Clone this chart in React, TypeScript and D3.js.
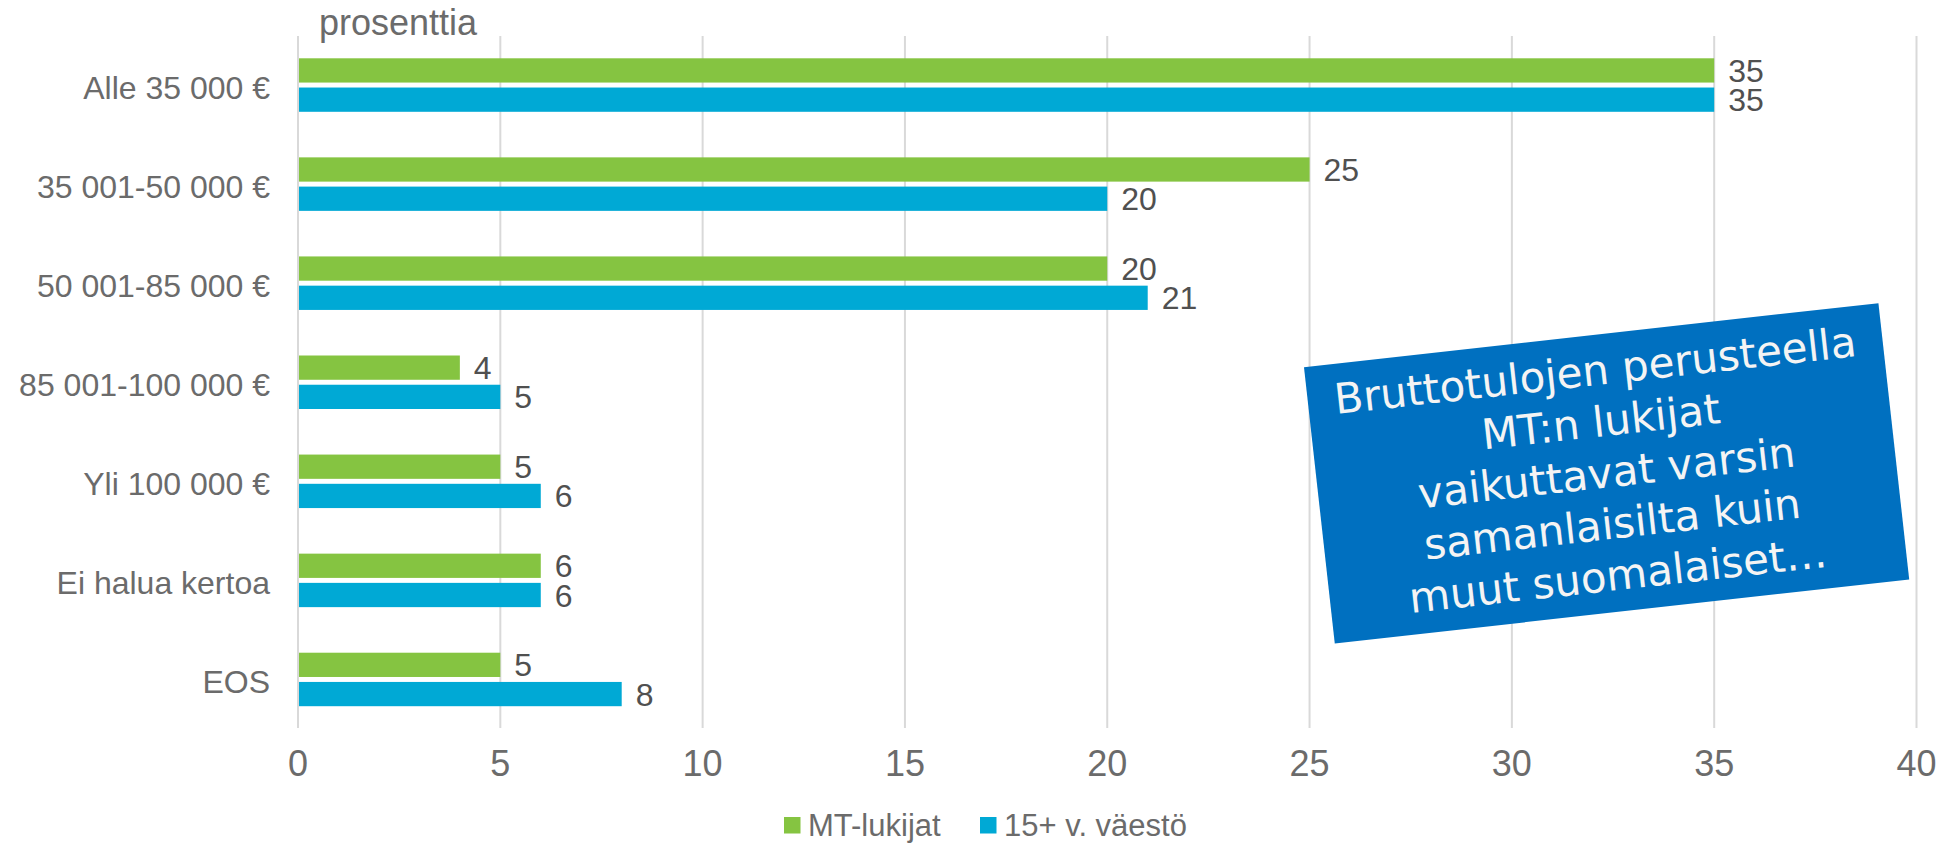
import React from 'react';
import * as d3 from 'd3';

const categories = [
  'Alle 35 000 €',
  '35 001-50 000 €',
  '50 001-85 000 €',
  '85 001-100 000 €',
  'Yli 100 000 €',
  'Ei halua kertoa',
  'EOS',
];
const mtLukijat = [35, 25, 20, 4, 5, 6, 5];
const vaesto = [35, 20, 21, 5, 6, 6, 8];
const seriesNames = ['MT-lukijat', '15+ v. väestö'];
const seriesColors = ['#85C441', '#00A9D5'];
const xTicks = [0, 5, 10, 15, 20, 25, 30, 35, 40];
const axisTitle = 'prosenttia';
const calloutLines = [
  'Bruttotulojen perusteella',
  'MT:n lukijat',
  'vaikuttavat varsin',
  'samanlaisilta kuin',
  'muut suomalaiset…',
];

const W = 1939;
const H = 843;
const FONT = '"Liberation Sans", Arial, sans-serif';

export default function App() {
  const x = d3.scaleLinear().domain([0, 40]).range([298, 1916.5]);
  const y0 = d3
    .scaleBand<string>()
    .domain(categories)
    .range([36.5, 728])
    .paddingInner(0.46)
    .paddingOuter(0.22);
  const y1 = d3
    .scaleBand<number>()
    .domain([0, 1])
    .range([0, y0.bandwidth()])
    .paddingInner(0.17);
  const series = [mtLukijat, vaesto];
  const [plotTop, plotBottom] = [36, 728];

  const boxW = 578;
  const boxH = 278;
  const boxCx = 1606.6;
  const boxCy = 473.3;
  const angle = -6.36;
  const lineH = 51.5;

  return (
    <svg
      width={W}
      height={H}
      style={{ position: 'absolute', left: 0, top: 0, display: 'block' }}
    >
      <rect x={0} y={0} width={W} height={H} fill="#ffffff" />
      {/* gridlines */}
      {xTicks.map((t) => (
        <line
          key={'g' + t}
          x1={x(t)}
          x2={x(t)}
          y1={plotTop}
          y2={plotBottom}
          stroke="#D9D9D9"
          strokeWidth={2}
        />
      ))}
      {/* bars */}
      {categories.map((c, i) => (
        <g key={c} transform={`translate(0,${y0(c)})`}>
          {series.map((s, si) => (
            <rect
              key={si}
              x={x(0) + 1}
              y={y1(si)}
              width={x(s[i]) - x(0) - 1}
              height={y1.bandwidth()}
              fill={seriesColors[si]}
            />
          ))}
          {series.map((s, si) => (
            <text
              key={'l' + si}
              x={x(s[i]) + 14}
              y={(y1(si) as number) + y1.bandwidth() / 2}
              dy="0.36em"
              fontFamily={FONT}
              fontSize={32}
              fill="#505050"
            >
              {s[i]}
            </text>
          ))}
          <text
            x={270}
            y={y0.bandwidth() / 2 + 2}
            dy="0.36em"
            textAnchor="end"
            fontFamily={FONT}
            fontSize={32}
            fill="#6B6B6B"
          >
            {c}
          </text>
        </g>
      ))}
      {/* x tick labels */}
      {xTicks.map((t) => (
        <text
          key={'t' + t}
          x={x(t)}
          y={776}
          textAnchor="middle"
          fontFamily={FONT}
          fontSize={36}
          fill="#6B6B6B"
        >
          {t}
        </text>
      ))}
      {/* axis title */}
      <text x={319} y={35} fontFamily={FONT} fontSize={36} fill="#6B6B6B">
        {axisTitle}
      </text>
      {/* legend */}
      {seriesNames.map((n, i) => {
        const lx = [784, 980][i];
        return (
          <g key={n}>
            <rect x={lx} y={817} width={16.5} height={16.5} fill={seriesColors[i]} />
            <text x={lx + 24} y={835.5} fontFamily={FONT} fontSize={31} fill="#6B6B6B">
              {n}
            </text>
          </g>
        );
      })}
      {/* callout */}
      <g transform={`translate(${boxCx},${boxCy}) rotate(${angle})`}>
        <rect x={-boxW / 2} y={-boxH / 2} width={boxW} height={boxH} fill="#0070C0" />
        {calloutLines.map((l, i) => (
          <text
            key={i}
            x={0}
            y={14.2 + (i - 2) * lineH}
            textAnchor="middle"
            fontFamily='"DejaVu Sans", Verdana, sans-serif'
            fontSize={42}
            fill="#F4F4F4"
          >
            {l}
          </text>
        ))}
      </g>
    </svg>
  );
}
